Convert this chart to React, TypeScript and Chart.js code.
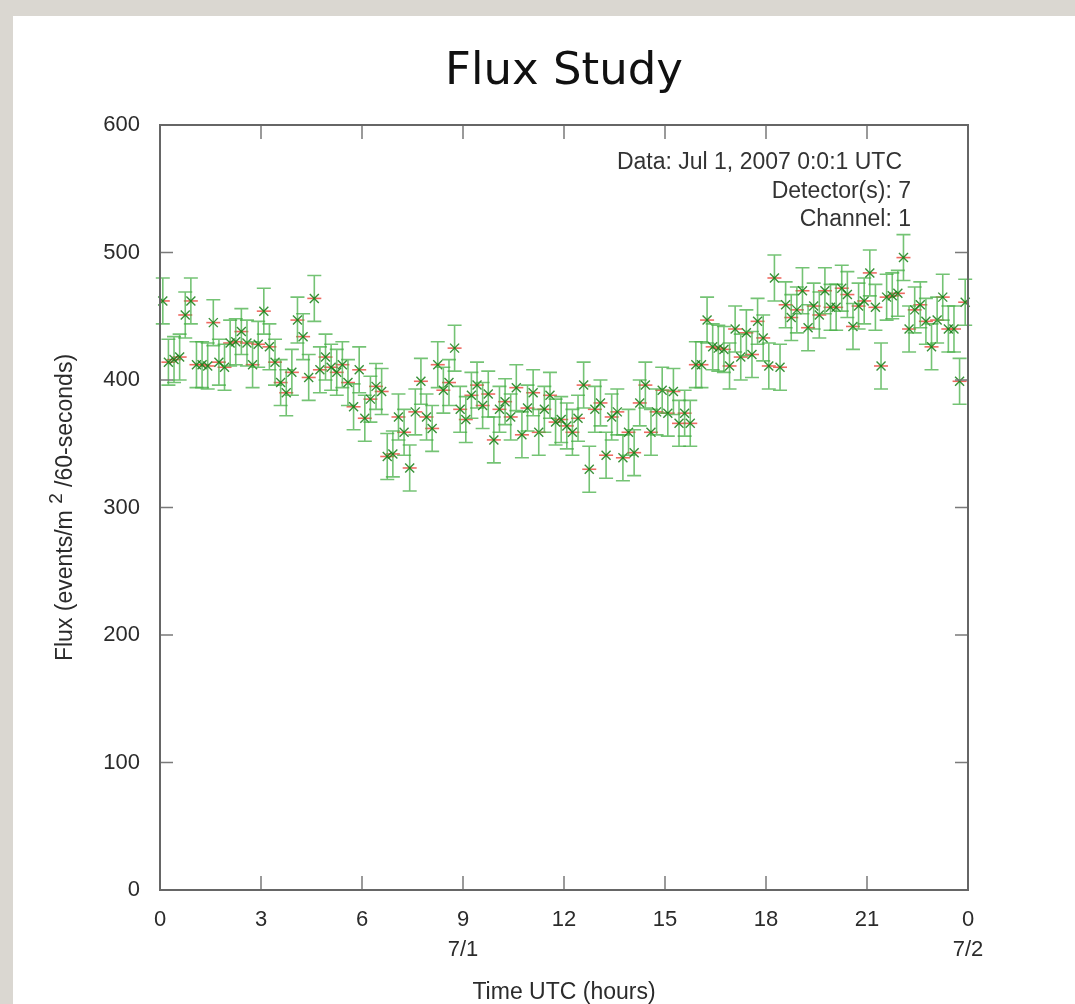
import React, { useEffect, useRef } from 'react';
import { Chart, registerables } from 'chart.js';

Chart.register(...registerables);

const TITLE = 'Flux Study';
const X_AXIS_TITLE = 'Time UTC (hours)';
const Y_TITLE_MAIN = 'Flux (events/m ';
const Y_TITLE_SUP = '2';
const Y_TITLE_END = ' /60-seconds)';
const NOTES = ['Data: Jul 1, 2007 0:0:1 UTC', 'Detector(s): 7', 'Channel: 1'];

const X_TICK_VALUES = [0, 3, 6, 9, 12, 15, 18, 21, 24];
const X_TICK_LABELS = ['0', '3', '6', '9', '12', '15', '18', '21', '0'];
const X_DATE_LABELS = ['', '', '', '7/1', '', '', '', '', '7/2'];
const Y_TICK_VALUES = [0, 100, 200, 300, 400, 500, 600];

// 10-minute bins, six per hour
const BIN_HOURS = 1 / 6;
const FLUX = [
  462, 414, 416, 418, 451, 462,
  412, 412, 411, 445, 414, 410,
  429, 430, 438, 429, 412, 428,
  454, 426, 414, 398, 390, 406,
  447, 434, 402, 464, 408, 418,
  410, 406, 412, 398, 379, 408,
  370, 385, 395, 391, 340, 342,
  371, 359, 331, 375, 399, 371,
  362, 412, 392, 398, 425, 377,
  369, 388, 396, 380, 389, 353,
  377, 383, 371, 394, 357, 378,
  390, 359, 377, 388, 367, 369,
  364, 359, 370, 396, 330, 377,
  382, 341, 371, 375, 339, 359,
  343, 382, 396, 359, 375, 392,
  374, 391, 366, 374, 366, 412,
  412, 447, 426, 425, 424, 411,
  440, 418, 437, 420, 446, 433,
  411, 480, 410, 459, 449, 455,
  470, 441, 458, 451, 470, 457,
  457, 472, 467, 442, 458, 462,
  484, 457, 411, 465, 466, 468,
  496, 440, 455, 459, 446, 426,
  447, 465, 440, 440, 399, 461,
];
const FLUX_ERR = 18;

const TXT = '#2b2b2b';
const SANS = '"Liberation Sans", Arial, Helvetica, sans-serif';

const errorBarPlugin = {
  id: 'errorBars',
  afterDatasetsDraw(chart: any) {
    const { ctx } = chart;
    const y = chart.scales.y;
    const meta = chart.getDatasetMeta(0);
    ctx.save();
    meta.data.forEach((pt: any, i: number) => {
      const v = FLUX[i];
      const px = pt.x;
      const py = pt.y;
      const top = y.getPixelForValue(v + FLUX_ERR);
      const bot = y.getPixelForValue(v - FLUX_ERR);
      ctx.strokeStyle = 'rgba(70,175,70,0.75)';
      ctx.lineWidth = 1.6;
      ctx.beginPath();
      ctx.moveTo(px, top);
      ctx.lineTo(px, bot);
      ctx.moveTo(px - 7, top);
      ctx.lineTo(px + 7, top);
      ctx.moveTo(px - 7, bot);
      ctx.lineTo(px + 7, bot);
      ctx.stroke();
      ctx.strokeStyle = 'rgba(20,125,20,0.85)';
      ctx.lineWidth = 1.4;
      ctx.beginPath();
      ctx.moveTo(px - 4.5, py - 4.5);
      ctx.lineTo(px + 4.5, py + 4.5);
      ctx.moveTo(px - 4.5, py + 4.5);
      ctx.lineTo(px + 4.5, py - 4.5);
      ctx.stroke();
    });
    ctx.restore();
  },
};

const framePlugin = {
  id: 'frameAndText',
  afterDraw(chart: any) {
    const { ctx, chartArea } = chart;
    const { left, right, top, bottom } = chartArea;
    const x = chart.scales.x;
    const y = chart.scales.y;
    ctx.save();
    // inward ticks on all sides
    ctx.strokeStyle = '#7a7a7a';
    ctx.lineWidth = 1.5;
    ctx.beginPath();
    X_TICK_VALUES.forEach((v) => {
      const px = x.getPixelForValue(v);
      ctx.moveTo(px, bottom);
      ctx.lineTo(px, bottom - 14);
      ctx.moveTo(px, top);
      ctx.lineTo(px, top + 14);
    });
    Y_TICK_VALUES.forEach((v) => {
      const py = y.getPixelForValue(v);
      ctx.moveTo(left, py);
      ctx.lineTo(left + 13, py);
      ctx.moveTo(right, py);
      ctx.lineTo(right - 13, py);
    });
    ctx.stroke();
    // frame
    ctx.strokeStyle = '#666';
    ctx.lineWidth = 2;
    ctx.strokeRect(left, top, right - left, bottom - top);

    // annotations (top-right)
    ctx.fillStyle = '#333';
    ctx.font = `23px ${SANS}`;
    ctx.textAlign = 'right';
    ctx.textBaseline = 'middle';
    ctx.fillText(NOTES[0], right - 66, top + 38);
    ctx.fillText(NOTES[1], right - 57, top + 67);
    ctx.fillText(NOTES[2], right - 57, top + 95);

    // rotated y title with superscript
    ctx.translate(66, (top + bottom) / 2);
    ctx.rotate(-Math.PI / 2);
    ctx.fillStyle = TXT;
    ctx.textAlign = 'left';
    const mainFont = `23px ${SANS}`;
    const supFont = `19px ${SANS}`;
    ctx.font = mainFont;
    const w1 = ctx.measureText(Y_TITLE_MAIN).width;
    const w3 = ctx.measureText(Y_TITLE_END).width;
    ctx.font = supFont;
    const w2 = ctx.measureText(Y_TITLE_SUP).width;
    let cx = -(w1 + w2 + w3) / 2;
    ctx.font = mainFont;
    ctx.fillText(Y_TITLE_MAIN, cx, 0);
    cx += w1;
    ctx.font = supFont;
    ctx.fillText(Y_TITLE_SUP, cx, -9);
    cx += w2;
    ctx.font = mainFont;
    ctx.fillText(Y_TITLE_END, cx, 0);
    ctx.restore();
  },
};

export default function App() {
  const ref = useRef<HTMLCanvasElement | null>(null);

  useEffect(() => {
    if (!ref.current) return;
    const points = FLUX.map((v, i) => ({ x: (i + 0.5) * BIN_HOURS, y: v }));
    const chart = new Chart(ref.current, {
      type: 'scatter',
      data: {
        datasets: [
          {
            label: 'Flux',
            data: points,
            showLine: false,
            pointStyle: 'line',
            pointRadius: 7,
            pointHoverRadius: 7,
            pointBorderColor: 'rgba(235,80,70,0.85)',
            pointBackgroundColor: 'rgba(235,80,70,0.85)',
            pointBorderWidth: 1.6,
          },
        ],
      },
      options: {
        animation: false,
        responsive: false,
        devicePixelRatio: 1,
        layout: { padding: { left: 0, right: 107, top: 0, bottom: 0 } },
        plugins: {
          legend: { display: false },
          tooltip: { enabled: false },
          title: {
            display: true,
            text: TITLE,
            fullSize: false,
            color: '#111',
            font: { family: '"DejaVu Sans", sans-serif', size: 45, weight: 'normal', lineHeight: 1.2 },
            padding: { top: 45, bottom: 26 },
          },
        },
        scales: {
          x: {
            type: 'linear',
            min: 0,
            max: 24,
            grid: { display: false, drawTicks: false },
            border: { display: false },
            afterBuildTicks: (s: any) => {
              s.ticks = X_TICK_VALUES.map((v) => ({ value: v }));
            },
            afterFit: (s: any) => {
              s.height = 114;
            },
            ticks: {
              padding: 15,
              color: TXT,
              font: { family: SANS, size: 22, lineHeight: 1.36 },
              maxRotation: 0,
              autoSkip: false,
              callback: (_v: any, i: number) =>
                X_DATE_LABELS[i] ? [X_TICK_LABELS[i], X_DATE_LABELS[i]] : X_TICK_LABELS[i],
            },
            title: {
              display: true,
              text: X_AXIS_TITLE,
              color: TXT,
              font: { family: SANS, size: 23, lineHeight: 1 },
              padding: { top: 0, bottom: 0 },
            },
          },
          y: {
            type: 'linear',
            min: 0,
            max: 600,
            grid: { display: false, drawTicks: false },
            border: { display: false },
            afterBuildTicks: (s: any) => {
              s.ticks = Y_TICK_VALUES.map((v) => ({ value: v }));
            },
            afterFit: (s: any) => {
              s.width = 160;
            },
            ticks: {
              padding: 20,
              color: TXT,
              font: { family: SANS, size: 22 },
              callback: (v: any) => String(v),
            },
          },
        },
      },
      plugins: [errorBarPlugin, framePlugin],
    });
    return () => chart.destroy();
  }, []);

  return (
    <div
      style={{
        position: 'absolute',
        left: 0,
        top: 0,
        width: 1075,
        height: 1004,
        background: '#dad7d1',
        overflow: 'hidden',
      }}
    >
      <div
        style={{
          position: 'absolute',
          left: 13,
          top: 16,
          right: 0,
          bottom: 0,
          background: '#ffffff',
        }}
      />
      <canvas
        ref={ref}
        width={1075}
        height={1004}
        style={{ position: 'absolute', left: 0, top: 0, width: 1075, height: 1004 }}
      />
    </div>
  );
}
